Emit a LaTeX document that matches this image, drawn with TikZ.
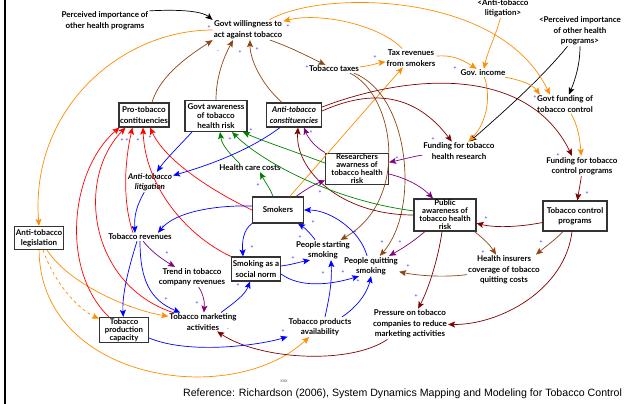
\documentclass[tikz,border=0pt]{standalone}
\usepackage{fontspec}
\setmainfont{Lato}
\newfontfamily\reffont{Liberation Sans}
\usetikzlibrary{arrows.meta}
\definecolor{orng}{RGB}{255,140,0}
\definecolor{brn}{RGB}{139,69,19}
\definecolor{mrn}{RGB}{128,0,0}
\definecolor{prp}{RGB}{128,0,128}
\definecolor{grn}{RGB}{0,128,0}
\definecolor{rd}{RGB}{255,0,0}
\definecolor{bl}{RGB}{0,0,255}
\begin{document}
\begin{tikzpicture}[x=1pt,y=-1pt,
  lbl/.style={font=\fontsize{8}{10.5}\selectfont\bfseries, align=center, inner sep=1pt},
  ital/.style={font=\fontsize{8}{10.5}\selectfont\bfseries\itshape},
  mid/.style={font=\fontsize{8}{9.7}\selectfont\bfseries},
  tight/.style={font=\fontsize{7.8}{8}\selectfont\bfseries},
  box/.style={lbl, draw=black!80, line width=1.1pt, fill=white},
  arr/.style={line width=0.7pt, -{Stealth[length=7pt,width=6pt,inset=1.5pt]}},
  sg/.style={font=\fontsize{5}{5}\selectfont, text=bl, inner sep=0pt},
]
\useasboundingbox (0,0) rectangle (624,404);
\draw[line width=2pt] (5,0) -- (5,404);

% ---------- nodes ----------
\node[lbl] (perc) at (105,21) {Perceived importance of\\other health programs};
\node[lbl] (will) at (248,30) {Govt willingness to\\act against tobacco};
\node[lbl] (taxes) at (334,69) {Tobacco taxes};
\node[lbl] (taxrev) at (411,58) {Tax revenues\\from smokers};
\node[lbl] (litig2) at (503,8) {<Anti-tobacco\\litigation>};
\node[lbl] (perc2) at (580,31) {<Perceived importance\\of other health\\programs>};
\node[lbl] (income) at (483,73) {Gov. income};
\node[lbl] (fundctl) at (565,104) {Govt funding of\\tobacco control};
\node[lbl] (fundres) at (459,151) {Funding for tobacco\\health research};
\node[lbl] (fundprog) at (582,166) {Funding for tobacco\\control programs};
\node[box,minimum width=50,minimum height=24] (protob) at (144,115) {Pro-tobacco\\contituencies};
\node[box,mid,minimum width=62,minimum height=31] (aware) at (216,116) {Govt awareness\\of tobacco\\health risk};
\node[box,ital,minimum width=55,minimum height=24] (anti) at (294,115) {Anti-tobacco\\constituencies};
\node[box,tight,minimum width=63,minimum height=30] (res) at (357,169) {Researchers\\awarness of\\tobacco health\\risk};
\node[box,minimum width=51,minimum height=26] (smokers) at (278,210) {Smokers};
\node[box,minimum width=49,minimum height=24] (norm) at (256,269) {Smoking as a\\social norm};
\node[box,tight,minimum width=62,minimum height=32] (pub) at (445,215) {Public\\awareness of\\tobacco health\\risk};
\node[box,minimum width=64,minimum height=30] (tcp) at (575,216) {Tobacco control\\programs};
\node[box,minimum width=49,minimum height=23] (legis) at (39,238) {Anti-tobacco\\legislation};
\node[lbl,ital] (litig) at (150,182) {Anti-tobacco\\litigation};
\node[lbl] (hcc) at (250,168) {Health care costs};
\node[lbl] (rev) at (140,237) {Tobacco revenues};
\node[lbl] (trend) at (192,277) {Trend in tobacco\\company revenues};
\node[lbl] (start) at (323,250) {People starting\\smoking};
\node[lbl] (quit) at (371,266) {People quitting\\smoking};
\node[lbl] (ins) at (504,270) {Health insurers\\coverage of tobacco\\quitting costs};
\node[lbl] (mkt) at (203,322) {Tobacco marketing\\activities};
\node[lbl] (avail) at (320,327) {Tobacco products\\availability};
\node[lbl] (press) at (410,324) {Pressure on tobacco\\companies to reduce\\marketing activities};
\node[box,tight,minimum width=49,minimum height=25] (prod) at (124,330) {Tobacco\\production\\capacity};

% ---------- black ----------
\draw[arr,black] (perc.north east) .. controls (185,9) and (203,12) .. (will.north west);
\draw[arr,black] (perc2) .. controls (580,65) and (575,80) .. (fundctl);
\draw[arr,black] (perc2) .. controls (540,80) and (500,115) .. (fundres);

% ---------- orange ----------
\draw[arr,orng] ([xshift=-14pt]will.north east) .. controls (320,-10) and (500,-10) .. ([xshift=14pt]fundctl.north west);
\draw[arr,orng] (taxrev) .. controls (380,25) and (320,12) .. (will);
\draw[arr,orng] (will.west) .. controls (120,30) and (30,110) .. (legis.north);
\draw[arr,orng] (taxes) .. controls (370,66) and (378,63) .. (taxrev);
\draw[arr,orng] (taxrev) .. controls (450,55) and (460,58) .. (income);
\draw[arr,orng] (litig2) .. controls (496,35) and (488,50) .. (income);
\draw[arr,orng] (income) .. controls (520,80) and (532,84) .. ([xshift=4pt]fundctl.north west);
\draw[arr,orng] (income) .. controls (492,100) and (485,125) .. (fundres);
\draw[arr,orng] (fundctl) .. controls (578,125) and (580,140) .. (fundprog);
\draw[arr,orng] (smokers) -- (taxrev);
\draw[arr,orng,dashed] (legis) .. controls (55,285) and (80,310) .. (prod);
\draw[arr,orng] (legis) .. controls (70,285) and (130,310) .. (mkt);
\draw[arr,orng] (legis) .. controls (40,380) and (230,410) .. (avail);

% ---------- brown ----------
\draw[arr,brn] ([xshift=8pt]protob.north) .. controls (160,75) and (190,55) .. (will.south west);
\draw[arr,brn] (aware.north) .. controls (216,75) and (225,55) .. ([xshift=-15pt]will.south);
\draw[arr,brn] ([xshift=-12pt]anti.north) .. controls (262,85) and (250,60) .. ([xshift=2pt]will.south);
\draw[arr,brn] ([xshift=22pt]will.south) .. controls (290,47) and (305,55) .. (taxes);
\draw[arr,brn] ([xshift=16pt]taxes.south) .. controls (395,95) and (410,200) .. (start);
\draw[arr,brn] ([xshift=20pt]taxes.south) .. controls (410,95) and (420,210) .. (quit);
\draw[arr,brn] (ins) .. controls (440,278) and (415,275) .. (quit);
\draw[arr,brn] ([xshift=-2pt]pub.south east) .. controls (485,240) and (490,245) .. ([xshift=-8pt]ins.north);
\draw[arr,brn] ([xshift=-12pt]tcp.south) .. controls (555,240) and (545,247) .. ([xshift=32pt]ins.north);

% ---------- maroon ----------
\draw[arr,mrn] ([yshift=4pt]anti.east) .. controls (380,85) and (420,100) .. (fundres);
\draw[arr,mrn] ([yshift=8pt]anti.east) .. controls (420,70) and (530,70) .. ([xshift=-10pt]fundprog.north);
\draw[arr,mrn] (fundprog) .. controls (581,180) and (579,190) .. (tcp);
\draw[arr,mrn] (tcp) .. controls (520,227) and (495,228) .. (pub);
\draw[arr,mrn] ([xshift=-3pt]tcp.south) .. controls (565,290) and (500,325) .. (press);
\draw[arr,mrn] ([xshift=-3pt]pub.south) .. controls (438,260) and (428,290) .. (press);
\draw[arr,mrn] (press) .. controls (350,365) and (260,360) .. (mkt);
\draw[arr,mrn] (pub) .. controls (340,215) and (295,170) .. ([xshift=4pt]anti.south);

% ---------- purple ----------
\draw[arr,prp] (res.north west) .. controls (315,147) and (308,138) .. ([xshift=10pt]anti.south);
\draw[arr,prp] ([xshift=18pt]smokers.north) .. controls (305,190) and (315,184) .. (res);
\draw[arr,prp] (fundres) .. controls (415,156) and (400,160) .. (res);
\draw[arr,prp] ([yshift=-5pt]res.east) .. controls (405,178) and (420,185) .. ([xshift=-12pt]pub.north);
\draw[arr,prp] ([xshift=-20pt]pub.south) .. controls (415,240) and (405,247) .. (quit);
\draw[arr,prp] (rev) .. controls (150,250) and (160,258) .. (trend);
\draw[arr,prp] (trend) .. controls (202,292) and (205,300) .. (mkt);

% ---------- green ----------
\draw[arr,grn] ([xshift=-5pt]smokers.north) .. controls (270,188) and (265,182) .. ([xshift=10pt]hcc.south);
\draw[arr,grn] ([xshift=-10pt]hcc.north) .. controls (228,152) and (222,145) .. ([xshift=4pt]aware.south);
\draw[arr,grn] (pub) .. controls (330,200) and (260,160) .. ([xshift=16pt]aware.south);
\draw[arr,grn] ([yshift=6pt]res.west) .. controls (290,150) and (260,140) .. ([xshift=27pt]aware.south);

% ---------- red ----------
\draw[arr,rd] ([xshift=10pt]prod.north west) .. controls (60,270) and (70,170) .. ([xshift=1pt]protob.south west);
\draw[arr,rd] ([xshift=-30pt]mkt.north) .. controls (90,285) and (75,180) .. ([xshift=7pt]protob.south west);
\draw[arr,rd] ([xshift=-7pt]rev.north) .. controls (122,200) and (125,160) .. ([xshift=14pt]protob.south west);
\draw[arr,rd] (norm.north west) .. controls (185,235) and (145,185) .. ([xshift=-1pt]protob.south);
\draw[arr,rd] (smokers.west) .. controls (210,190) and (165,160) .. ([xshift=6pt]protob.south);

% ---------- blue ----------
\draw[arr,bl] ([xshift=-24pt]aware.south) .. controls (180,145) and (165,160) .. (litig);
\draw[arr,bl] ([xshift=-14pt]anti.south) .. controls (250,150) and (210,165) .. (litig);
\draw[arr,bl] (litig) .. controls (137,205) and (134,215) .. ([xshift=-5pt]rev.north);
\draw[arr,bl] ([yshift=4pt]smokers.west) .. controls (215,205) and (175,212) .. ([xshift=18pt]rev.north);
\draw[arr,bl] ([xshift=-3pt]rev.south) .. controls (128,270) and (122,295) .. (prod);
\draw[arr,bl] (rev.south) .. controls (140,280) and (150,300) .. (mkt);
\draw[arr,bl] (smokers.south west) .. controls (243,230) and (242,242) .. ([xshift=-13pt]norm.north);
\draw[arr,bl] ([yshift=3pt]norm.east) .. controls (290,265) and (300,262) .. ([xshift=-13pt]start.south);
\draw[arr,bl] ([yshift=-5pt]norm.east) .. controls (300,288) and (330,285) .. ([xshift=-12pt]quit.south);
\draw[arr,bl] ([xshift=-8pt]start.north) .. controls (312,235) and (305,228) .. ([xshift=20pt]smokers.south);
\draw[arr,bl] ([xshift=-4pt]quit.north) .. controls (360,230) and (330,210) .. (smokers.east);
\draw[arr,bl] ([xshift=18pt]mkt.north) .. controls (235,302) and (245,295) .. ([xshift=-6pt]norm.south);
\draw[arr,bl] ([yshift=-8pt]prod.east) .. controls (190,355) and (260,345) .. (avail);
\draw[arr,bl] ([xshift=5pt]avail.north) .. controls (330,295) and (332,280) .. ([xshift=8pt]start.south);
\draw[arr,bl] ([xshift=22pt]avail.north) .. controls (360,305) and (368,290) .. (quit.south);

% ---------- polarity signs ----------
\foreach \px/\py/\s [count=\i] in {209/27/+, 288/26/+, 218/52/-, 240/52/+, 257/49/+, 375/57/+, 307/67/+,
  455/68/+, 535/97/+, 433/139/+, 558/155/+, 587/193/+, 418/200/+, 486/218/+, 541/242/+, 483/252/+,
  416/296/+, 122/140/+, 127/140/+, 138/140/+, 150/137/+, 251/130/+, 230/139/+, 258/185/+, 311/132/+,
  397/158/+, 320/192/+, 313/222/+, 300/237/+, 252/247/+, 293/258/+, 355/232/+, 382/242/+, 400/242/+,
  358/281/+, 343/272/+, 323/273/+, 238/285/+, 283/331/+, 228/330/-, 408/266/+, 166/299/+, 197/303/+,
  130/308/-, 167/253/+, 163/227/+}
  \node[sg] (sg\i) at (\px,\py) {\s};

% ---------- footer ----------
\node[font=\fontsize{5}{5}\selectfont, text=black!60, inner sep=0pt] (xxx) at (284,381) {xxx};
\node[font=\reffont\fontsize{10.6}{12}\selectfont, anchor=base west, inner sep=0pt] (ref) at (183,396) {Reference: Richardson (2006), System Dynamics Mapping and Modeling for Tobacco Control};
\end{tikzpicture}
\end{document}
